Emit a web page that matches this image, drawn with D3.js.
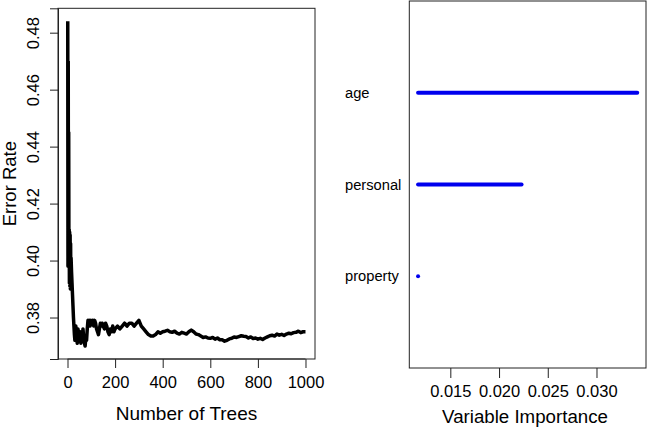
<!DOCTYPE html>
<html>
<head>
<meta charset="utf-8">
<script src="https://cdn.jsdelivr.net/npm/d3@7"></script>
<style>
html,body{margin:0;padding:0;background:#fff;}
svg{display:block;font-family:"Liberation Sans",Arial,Helvetica,sans-serif;}
</style>
</head>
<body>
<svg id="chart" width="648" height="429"></svg>
<script>
// ---- Data: OOB error rate vs number of trees ----
const trees = [1,2,3,4,5,6,7,8,9,10,11,12,13,14,15,17,19,21,23,25,27,29,31,33,35,38,41,44,47,50,53,56,59,62,65,68,71,74,77,80,83,86,89,92,95,98,102,106,110,114,118,122,126,130,134,138,142,146,150,155,160,165,170,175,180,185,190,195,200,210,220,230,240,250,260,270,280,290,300,310,320,330,340,350,360,370,380,390,400,410,420,430,440,450,460,470,480,490,500,510,520,530,540,550,560,570,580,590,600,610,620,630,640,650,660,670,680,690,700,710,720,730,740,750,760,770,780,790,800,810,820,830,840,850,860,870,880,890,900,910,920,930,940,950,960,970,980,990,1000];
const errorRate = [0.484,0.398,0.470,0.402,0.445,0.400,0.411,0.392,0.410,0.391,0.409,0.390,0.406,0.393,0.401,0.396,0.392,0.388,0.384,0.380,0.377,0.374,0.372,0.374,0.377,0.373,0.371,0.376,0.374,0.372,0.375,0.371,0.374,0.372,0.376,0.373,0.371,0.370,0.373,0.372,0.376,0.379,0.378,0.379,0.377,0.379,0.378,0.379,0.377,0.379,0.378,0.376,0.375,0.374,0.376,0.378,0.377,0.378,0.377,0.376,0.378,0.377,0.375,0.374,0.376,0.375,0.377,0.375,0.376,0.377,0.376,0.377,0.378,0.377,0.378,0.378,0.377,0.378,0.379,0.377,0.376,0.375,0.374,0.3735,0.3735,0.374,0.375,0.3745,0.375,0.3752,0.3755,0.375,0.3748,0.3752,0.3745,0.3742,0.3748,0.3745,0.3742,0.375,0.3756,0.375,0.3742,0.374,0.3735,0.373,0.3732,0.3728,0.3727,0.373,0.3724,0.3728,0.3722,0.3722,0.3717,0.372,0.3725,0.3727,0.3732,0.373,0.3733,0.3736,0.3734,0.3733,0.3728,0.3732,0.3726,0.3728,0.3724,0.3727,0.3723,0.3728,0.3732,0.3736,0.3738,0.3735,0.3742,0.3738,0.3741,0.3737,0.3742,0.3745,0.3743,0.3747,0.3748,0.3752,0.3747,0.375,0.375];
const xTicks = [0,200,400,600,800,1000];
const yTicks = [0.38,0.40,0.42,0.44,0.46,0.48];

// ---- Data: variable importance ----
const variables = ["age","personal","property"];
const importance = [0.03418,0.02231,0.01169];
const impTicks = [0.015,0.020,0.025,0.030];

const svg = d3.select("#chart");
const boxColor = "#222";
const FONT = "Liberation Sans, Arial, sans-serif";

// ---------- Left panel ----------
const L = {left:58, right:315, top:8.3, bottom:359};
const xL = d3.scaleLinear().domain([-39.96,1039.96]).range([L.left,L.right]);
const yExt = d3.extent(errorRate);
const yPad = (yExt[1]-yExt[0])*0.04;
const yL = d3.scaleLinear().domain([yExt[0]-yPad, yExt[1]+yPad]).range([L.bottom,L.top]);

svg.append("rect").attr("x",L.left).attr("y",L.top).attr("width",L.right-L.left).attr("height",L.bottom-L.top)
  .attr("fill","none").attr("stroke",boxColor).attr("stroke-width",1);

const pts = trees.map((t,i)=>[t,errorRate[i]]);
svg.append("path").datum(pts)
  .attr("d", d3.line().x(d=>xL(d[0])).y(d=>yL(d[1])))
  .attr("fill","none").attr("stroke","#000").attr("stroke-width",3.5).attr("stroke-linejoin","round");

const axB = svg.append("g").attr("transform",`translate(0,${L.bottom})`)
  .call(d3.axisBottom(xL).tickValues(xTicks).tickSize(9).tickPadding(8).tickFormat(d3.format("d")));
axB.select(".domain").attr("d",`M${xL(0)},0H${xL(1000)}`).attr("stroke",boxColor);
axB.selectAll("text").attr("font-size",16.5).attr("fill","#000").attr("font-family",FONT);
axB.selectAll("line").attr("stroke",boxColor);

const axLft = svg.append("g").attr("transform",`translate(${L.left},0)`)
  .call(d3.axisLeft(yL).tickValues(yTicks).tickSize(8).tickFormat(d3.format(".2f")));
axLft.select(".domain").attr("stroke",boxColor);
axLft.selectAll("line").attr("stroke",boxColor);
axLft.selectAll("text").attr("font-size",16.5).attr("fill","#000").attr("font-family",FONT)
  .attr("text-anchor","middle").attr("x",0).attr("dy",0)
  .attr("transform","translate(-23,0) rotate(-90)")
  .attr("dominant-baseline","middle");

svg.append("text").attr("x",(xL(0)+xL(1000))/2).attr("y",420).attr("text-anchor","middle")
  .attr("font-size",19).text("Number of Trees");
svg.append("text").attr("transform",`translate(16,${(L.top+L.bottom)/2}) rotate(-90)`).attr("text-anchor","middle")
  .attr("font-size",18.5).text("Error Rate");

// ---------- Right panel ----------
const R = {left:409.3, right:646, top:1, bottom:368};
const iExt = d3.extent(importance);
const iPad = (iExt[1]-iExt[0])*0.04;
const xR = d3.scaleLinear().domain([iExt[0]-iPad, iExt[1]+iPad]).range([R.left,R.right]);
const yR = d3.scaleLinear().domain([0,variables.length+1]).range([R.bottom,R.top]);

svg.append("rect").attr("x",R.left).attr("y",R.top).attr("width",R.right-R.left).attr("height",R.bottom-R.top)
  .attr("fill","none").attr("stroke",boxColor).attr("stroke-width",1);

svg.append("g").selectAll("line").data(variables).join("line")
  .attr("x1",xR(iExt[0])).attr("x2",(d,i)=>xR(importance[i]))
  .attr("y1",(d,i)=>yR(variables.length-i)).attr("y2",(d,i)=>yR(variables.length-i))
  .attr("stroke","#0000ee").attr("stroke-width",4).attr("stroke-linecap","round");

svg.append("g").selectAll("text").data(variables).join("text")
  .attr("x",345).attr("y",(d,i)=>yR(variables.length-i)).attr("dy","0.35em")
  .attr("font-size",14.7).text(d=>d);

const axR = svg.append("g").attr("transform",`translate(0,${R.bottom})`)
  .call(d3.axisBottom(xR).tickValues(impTicks).tickSize(10).tickPadding(7).tickFormat(d3.format(".3f")));
axR.select(".domain").remove();
axR.selectAll("line").attr("stroke",boxColor);
axR.selectAll("text").attr("font-size",16.5).attr("fill","#000").attr("font-family",FONT);

svg.append("text").attr("x",525).attr("y",423).attr("text-anchor","middle")
  .attr("font-size",18.7).text("Variable Importance");
</script>
</body>
</html>
